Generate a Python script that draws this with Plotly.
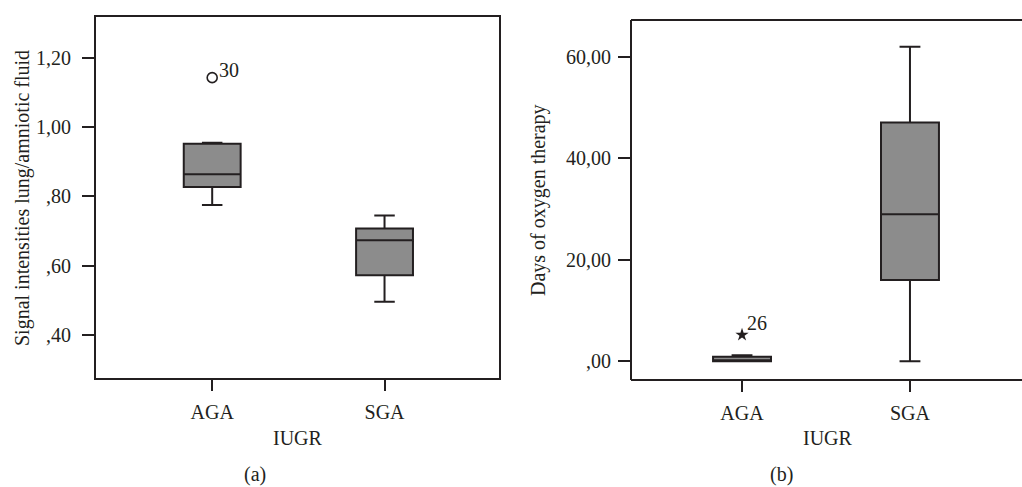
import plotly.graph_objects as go

# ---------------- data ----------------
categories = ["AGA", "SGA"]

# (a) Signal intensities lung/amniotic fluid
sig_lower = [0.775, 0.496]
sig_q1 = [0.827, 0.572]
sig_median = [0.864, 0.673]
sig_q3 = [0.952, 0.707]
sig_upper = [0.955, 0.745]
sig_outlier_cat = ["AGA"]
sig_outlier_val = [1.143]
sig_outlier_lbl = ["30"]
sig_tickvals = [0.40, 0.60, 0.80, 1.00, 1.20]
sig_ticktext = [",40", ",60", ",80", "1,00", "1,20"]

# (b) Days of oxygen therapy
oxy_lower = [0.0, 0.0]
oxy_q1 = [0.0, 16.0]
oxy_median = [0.0, 29.0]
oxy_q3 = [0.9, 47.1]
oxy_upper = [1.2, 62.0]
oxy_outlier_cat = ["AGA"]
oxy_outlier_val = [5.2]
oxy_outlier_lbl = ["26"]
oxy_tickvals = [0, 20, 40, 60]
oxy_ticktext = [",00", "20,00", "40,00", "60,00"]

# ---------------- style ----------------
W, H = 1022, 487
FONT = "Liberation Serif"
TXT = "#231f20"
FILL = "#8c8c8c"
FS = 20

def px_x(p):
    return p / W

def px_y(p):
    return 1 - p / H

fig = go.Figure()

fig.add_trace(go.Box(
    x=categories, q1=sig_q1, median=sig_median, q3=sig_q3,
    lowerfence=sig_lower, upperfence=sig_upper,
    width=0.33, whiskerwidth=0.36, fillcolor=FILL,
    line=dict(color=TXT, width=2), boxpoints=False,
    xaxis="x", yaxis="y", showlegend=False, hoverinfo="skip"))
fig.add_trace(go.Scatter(
    x=sig_outlier_cat, y=sig_outlier_val, mode="markers",
    marker=dict(symbol="circle-open", size=10, color=TXT, line=dict(width=1.6, color=TXT)),
    xaxis="x", yaxis="y", showlegend=False, hoverinfo="skip"))

fig.add_trace(go.Box(
    x=categories, q1=oxy_q1, median=oxy_median, q3=oxy_q3,
    lowerfence=oxy_lower, upperfence=oxy_upper,
    width=0.345, whiskerwidth=0.36, fillcolor=FILL,
    line=dict(color=TXT, width=2), boxpoints=False,
    xaxis="x2", yaxis="y2", showlegend=False, hoverinfo="skip"))
fig.add_trace(go.Scatter(
    x=oxy_outlier_cat, y=oxy_outlier_val, mode="markers",
    marker=dict(symbol="star", size=10, color=TXT, line=dict(width=0)),
    xaxis="x2", yaxis="y2", showlegend=False, hoverinfo="skip"))

tickfont = dict(family=FONT, size=FS, color=TXT)
common_x = dict(type="category", categoryorder="array", categoryarray=categories,
                showgrid=False, zeroline=False, showline=False,
                ticks="outside", ticklen=11, tickwidth=2, tickcolor=TXT,
                tickfont=tickfont, ticklabelstandoff=4, fixedrange=True)
common_y = dict(showgrid=False, zeroline=False, showline=False,
                ticks="outside", ticklen=12, tickwidth=2, tickcolor=TXT,
                tickfont=tickfont, fixedrange=True)

fig.update_layout(
    width=W, height=H, autosize=False,
    margin=dict(l=0, r=0, t=0, b=0),
    paper_bgcolor="white", plot_bgcolor="white",
    boxmode="overlay",
    xaxis=dict(domain=[px_x(95), px_x(500)], range=[-0.68, 1.67], anchor="y", **common_x),
    yaxis=dict(domain=[px_y(379), px_y(16)], range=[0.2726, 1.321], anchor="x",
               tickvals=sig_tickvals, ticktext=sig_ticktext, ticklabelstandoff=7, **common_y),
    xaxis2=dict(domain=[px_x(631), 1.0], range=[-0.661, 1.667], anchor="y2", **common_x),
    yaxis2=dict(domain=[px_y(380), px_y(20)], range=[-3.7, 67.3], anchor="x2",
                tickvals=oxy_tickvals, ticktext=oxy_ticktext, ticklabelstandoff=3, **common_y),
)

# frames
frame_line = dict(color=TXT, width=2)
fig.add_shape(type="rect", xref="x domain", yref="y domain", x0=0, x1=1, y0=0, y1=1,
              line=frame_line, layer="above")
for (x0, y0, x1, y1) in [(0, 0, 1, 0), (0, 0, 0, 1), (0, 1, 1, 1)]:
    fig.add_shape(type="line", xref="x2 domain", yref="y2 domain",
                  x0=x0, y0=y0, x1=x1, y1=y1, line=frame_line, layer="above")

# outlier labels
for c, v, t in zip(sig_outlier_cat, sig_outlier_val, sig_outlier_lbl):
    fig.add_annotation(x=categories.index(c), y=v, xref="x", yref="y", text=t, showarrow=False,
                       xanchor="left", yanchor="middle", xshift=5, yshift=8,
                       font=dict(family=FONT, size=FS, color=TXT))
for c, v, t in zip(oxy_outlier_cat, oxy_outlier_val, oxy_outlier_lbl):
    fig.add_annotation(x=categories.index(c), y=v, xref="x2", yref="y2", text=t, showarrow=False,
                       xanchor="left", yanchor="middle", xshift=3, yshift=12,
                       font=dict(family=FONT, size=FS, color=TXT))

# axis titles and panel labels
def label(text, x, y, angle=0):
    fig.add_annotation(x=px_x(x), y=px_y(y), xref="paper", yref="paper", text=text,
                       showarrow=False, xanchor="center", yanchor="middle", textangle=angle,
                       font=dict(family=FONT, size=FS, color=TXT))

label("Signal intensities lung/amniotic fluid", 23, 198, -90)
label("Days of oxygen therapy", 538, 200, -90)
label("IUGR", 297.5, 438)
label("IUGR", 828, 438)
label("(a)", 255, 474)
label("(b)", 781, 474)

fig.write_html("out.html",
               config={"displayModeBar": False, "staticPlot": True},
               post_script="document.body.style.margin='0';document.body.style.padding='0';document.body.style.overflow='hidden';")
